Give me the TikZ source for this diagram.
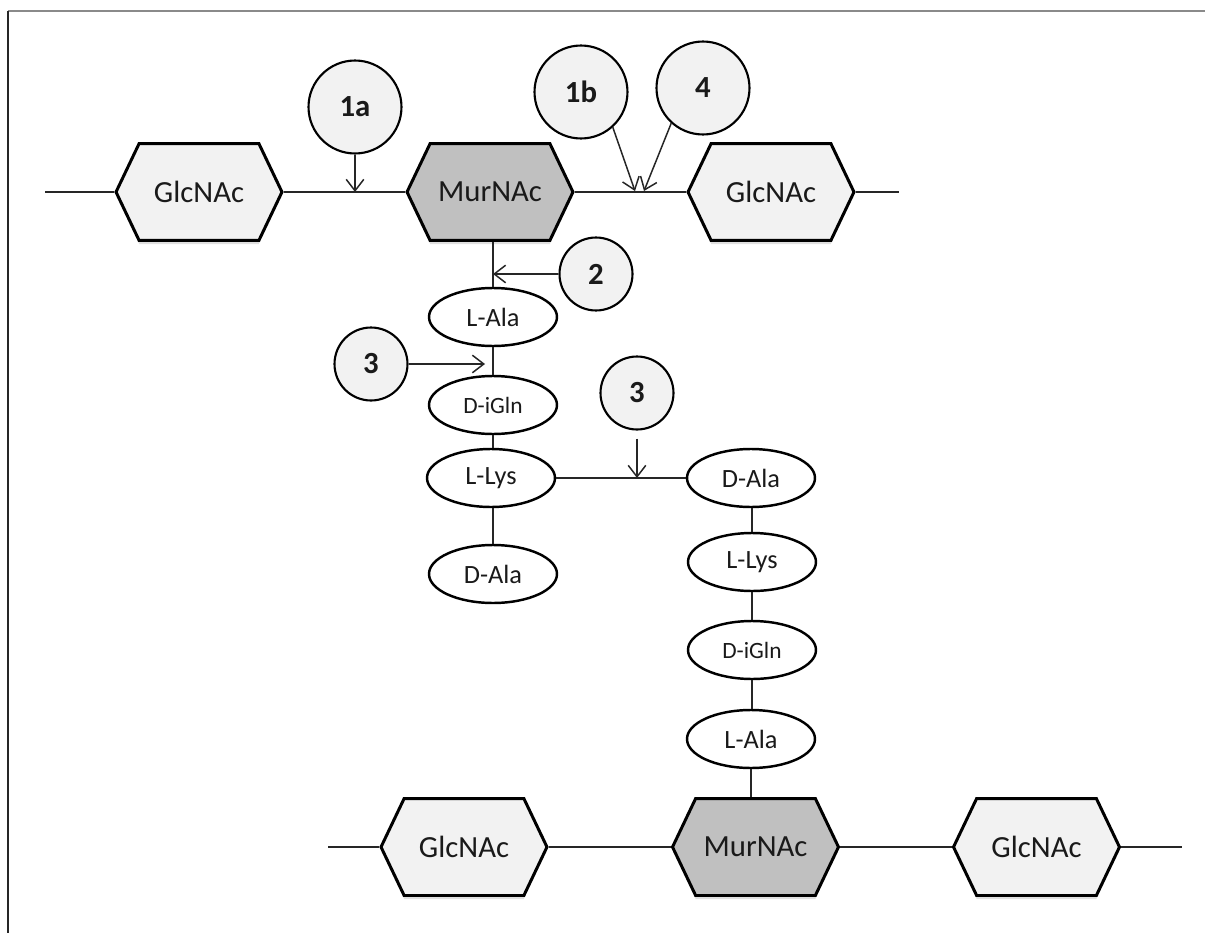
\documentclass[tikz,border=0pt]{standalone}
\usepackage{fontspec}
\setmainfont{Carlito}
\usetikzlibrary{shapes.symbols,shapes.geometric,arrows.meta,shadows}
\definecolor{lightfill}{HTML}{F2F2F2}
\definecolor{murfill}{HTML}{C0C0C0}
\definecolor{txt}{HTML}{1A1A1A}
\definecolor{framegray}{HTML}{8A8A8A}
\tikzset{
  hexbox/.style={signal, signal to=west and east, signal pointer angle=129,
    draw=black, line width=1.7pt, minimum width=3.32cm, minimum height=1.94cm,
    inner sep=0pt, font=\fontsize{17.5}{20}\selectfont, text=txt,
    drop shadow={opacity=0.25, shadow xshift=0pt, shadow yshift=-2pt}},
  glc/.style={hexbox, fill=lightfill},
  mur/.style={hexbox, fill=murfill},
  amino/.style={ellipse, draw=black, fill=white, line width=1.4pt,
    minimum width=2.56cm, minimum height=1.16cm, inner sep=0pt,
    font=\fontsize{15}{18}\selectfont, text=txt},
  aminosmall/.style={amino, font=\fontsize{13.3}{16}\selectfont},
  bigstep/.style={circle, draw=black, fill=lightfill, line width=1.2pt,
    minimum size=1.86cm, inner sep=0pt, font=\bfseries\fontsize{17.5}{20}\selectfont, text=txt},
  smallstep/.style={bigstep, minimum size=1.46cm},
  bond/.style={draw=black!85, line width=0.85pt},
  cut/.style={bond, -{Straight Barb[length=6.5pt,width=10pt,line width=0.85pt]}},
}
\begin{document}
\begin{tikzpicture}[x=0.02cm, y=-0.02cm]
\useasboundingbox (0,0) rectangle (1205,933);
% frame
\draw[framegray, line width=1.1pt] (8,11) -- (1205,11);
\draw[black!85, line width=1.1pt] (8,11) -- (8,933);

% top glycan strand
\node[glc] (g1) at (199,192) {GlcNAc};
\node[mur] (m1) at (490,192) {MurNAc};
\node[glc] (g2) at (771,192) {GlcNAc};
\coordinate (tl) at (45,192);
\coordinate (tr) at (899,192);

% left stem peptide
\node[amino] (la1) at (493,317) {L-Ala};
\node[aminosmall] (dg1) at (493,405) {D-iGln};
\node[amino] (ly1) at (491,478) {L-Lys};
\node[amino] (da1) at (493,574) {D-Ala};

% right stem peptide
\node[amino] (da2) at (751,478) {D-Ala};
\node[amino] (ly2) at (752,562) {L-Lys};
\node[aminosmall] (dg2) at (752,650) {D-iGln};
\node[amino] (la2) at (751,739) {L-Ala};

% bottom glycan strand
\node[glc] (g3) at (464,847) {GlcNAc};
\node[mur] (m2) at (755.5,847) {MurNAc};
\node[glc] (g4) at (1036.5,847) {GlcNAc};
\coordinate (bl) at (328,847);
\coordinate (br) at (1182,847);

% cleavage-site markers
\node[bigstep] (c1a) at (355,107) {1a};
\node[bigstep] (c1b) at (581,92) {1b};
\node[bigstep] (c4) at (703,88) {4};
\node[smallstep] (c2) at (596,274) {2};
\node[smallstep] (c3a) at (371,364) {3};
\node[smallstep] (c3b) at (637,393) {3};
\coordinate (t1b) at (635,191);
\coordinate (t4) at (644,191);

% bonds
\path[bond] (tl) -- (g1.west);
\path[bond] (g1.east) -- (m1.west);
\path[bond] (m1.east) -- (g2.west);
\path[bond] (g2.east) -- (tr);
\path[bond] (la1.north |- m1.south) -- (la1.north);
\path[bond] (la1.south) -- (dg1.north);
\path[bond] (dg1.south) -- (ly1.north -| dg1.south);
\path[bond] (ly1.south -| da1.north) -- (da1.north);
\path[bond] (ly1.east) -- (da2.west);
\path[bond] (da2.south -| ly2.north) -- (ly2.north);
\path[bond] (ly2.south) -- (dg2.north);
\path[bond] (dg2.south) -- (la2.north -| dg2.south);
\path[bond] (la2.south) -- (la2.south |- m2.north);
\path[bond] (bl) -- (g3.west);
\path[bond] (g3.east) -- (m2.west);
\path[bond] (m2.east) -- (g4.west);
\path[bond] (g4.east) -- (br);

% arrows
\draw[cut] (c1a.south) -- (c1a.south |- g1.east);
\draw[cut] (c1b.-48) -- (t1b);
\draw[cut] (c4.-132) -- (t4);
\draw[cut] (c2.west) -- (c2.west -| la1.north);
\draw[cut, shorten >=0.16cm] (c3a.east) -- (c3a.east -| la1.south);
\draw[cut, shorten <=0.16cm] (c3b.south) -- (c3b.south |- ly1.east);
\end{tikzpicture}
\end{document}
